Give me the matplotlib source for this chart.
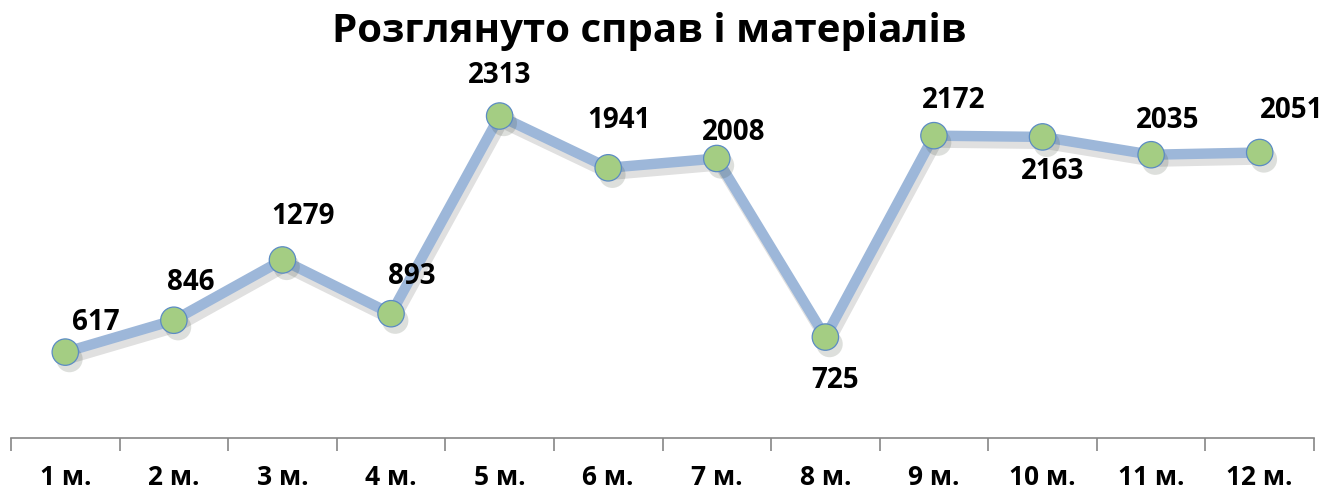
import matplotlib
matplotlib.use("Agg")
import matplotlib.pyplot as plt
import matplotlib.patheffects as pe

plt.rcParams['font.family'] = ['Open Sans', 'DejaVu Sans']

months = ["1 м.", "2 м.", "3 м.", "4 м.", "5 м.", "6 м.",
          "7 м.", "8 м.", "9 м.", "10 м.", "11 м.", "12 м."]
cases = [617, 846, 1279, 893, 2313, 1941, 2008, 725, 2172, 2163, 2035, 2051]

# label offsets in points (dx, dy) relative to each marker
label_offsets = [(22, 21), (12, 27), (15, 31), (15, 27), (0, 29), (8, 34),
                 (12, 19), (7, -31), (14, 25), (7, -25), (12, 25), (23, 30)]

fig = plt.figure(figsize=(13.37, 4.96), dpi=100)
ax = fig.add_axes([11 / 1337, 58 / 496, 1303 / 1337, 348 / 496])

x = list(range(1, len(cases) + 1))
ax.plot(x, cases, color='#9db7d9', lw=7.5, solid_capstyle='round', zorder=2,
        path_effects=[pe.SimpleLineShadow(offset=(2, -5), shadow_color='black', alpha=0.12),
                      pe.Normal()])
ax.plot(x, cases, ls='none', marker='o', ms=19, mfc='#a4cd83', mec='#5b8bc4',
        mew=0.9, zorder=3,
        path_effects=[pe.SimplePatchShadow(offset=(3, -5), alpha=0.16), pe.Normal()])

for xi, v, (dx, dy) in zip(x, cases, label_offsets):
    ax.annotate(str(v), (xi, v), xytext=(dx, dy), textcoords='offset points',
                ha='center', va='center', fontsize=20, fontweight='bold', color='black')

ax.set_xlim(0.5, len(cases) + 0.5)
ax.set_ylim(0, 2500)
ax.set_yticks([])
for s in ['left', 'right', 'top']:
    ax.spines[s].set_visible(False)
ax.spines['bottom'].set_color('#868686')
ax.spines['bottom'].set_linewidth(1.2)

ax.set_xticks(x)
ax.set_xticklabels(months, fontsize=19, fontweight='bold')
ax.tick_params(axis='x', which='major', length=0, pad=19)
ax.set_xticks([i + 0.5 for i in range(0, len(cases) + 1)], minor=True)
ax.tick_params(axis='x', which='minor', length=9, width=1.2, color='#868686')

fig.suptitle("Розглянуто справ і матеріалів", fontsize=29, fontweight='bold',
             x=0.4854, y=0.975)

fig.savefig("out.png", dpi=100)
